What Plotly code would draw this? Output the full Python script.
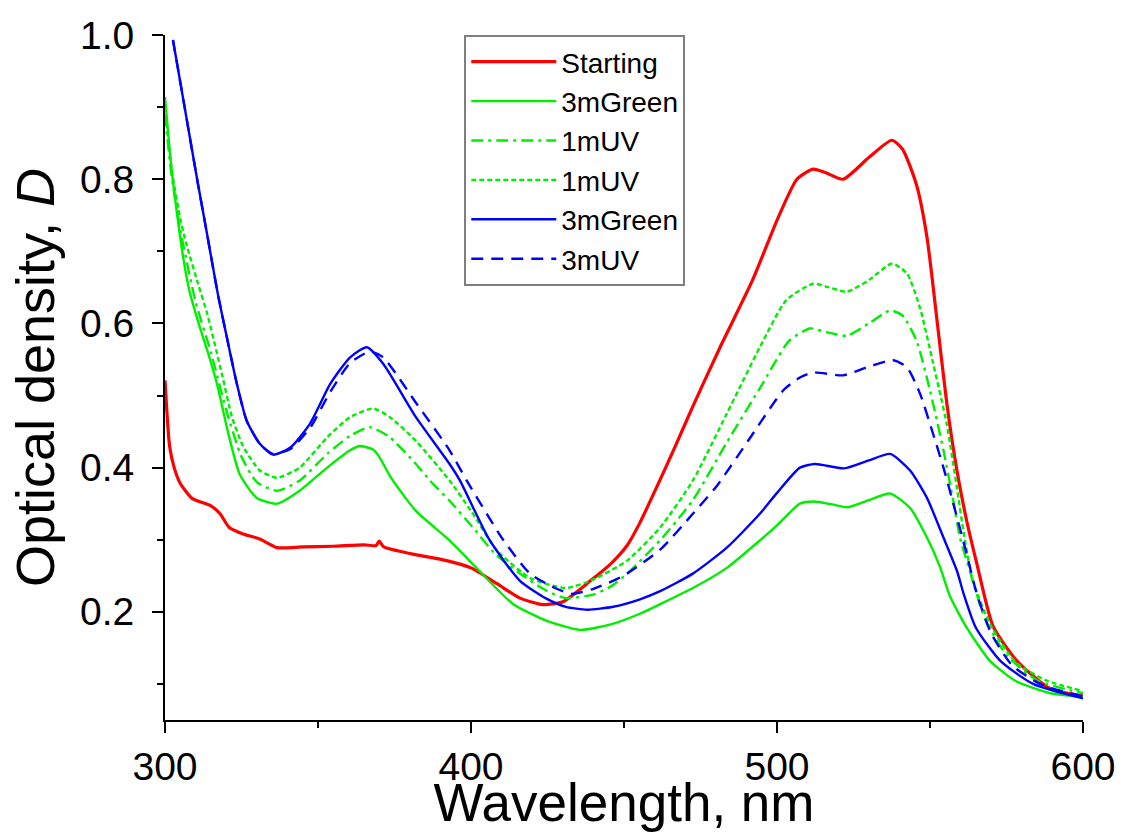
import plotly.graph_objects as go

# ---- data ----
wl_start = [300, 301.5, 303, 305, 309, 315, 318, 321, 325.5, 331, 336.6, 345, 355, 365, 369, 370, 371.5,
            381, 392, 400, 408.5, 416, 423.5, 430, 439, 446, 451, 455, 462, 467, 472.5, 481.4, 492, 500, 506.5,
            511.8, 516, 521.6, 530, 537.5, 541, 545.6, 549, 552.3, 555.5, 558.8, 562, 565.3, 570.6, 578.4, 589, 600]
d_start = [0.521, 0.43, 0.40, 0.378, 0.357, 0.347, 0.336, 0.317, 0.308, 0.301, 0.289, 0.290, 0.291, 0.293, 0.292, 0.298, 0.290,
           0.280, 0.271, 0.261, 0.239, 0.219, 0.210, 0.214, 0.243, 0.268, 0.292, 0.322, 0.385, 0.432, 0.485, 0.567, 0.66, 0.743, 0.80,
           0.814, 0.809, 0.80, 0.83, 0.854, 0.842, 0.792, 0.72, 0.604, 0.489, 0.396, 0.326, 0.267, 0.18, 0.132, 0.094, 0.083]

wl_green3 = [300, 302, 304, 306, 308, 311, 314, 317, 321, 324.5, 330, 336.6, 344, 353, 360.5, 363.7, 368, 370, 374, 382,
             393, 402, 413.7, 424.8, 435.6, 446, 455, 462, 472.5, 483.6, 494.4, 500, 507.5, 512, 518, 523, 530, 537,
             543.5, 549, 553.3, 556.5, 562, 569.6, 578, 589, 600]
d_green3 = [0.914, 0.82, 0.75, 0.69, 0.645, 0.60, 0.56, 0.516, 0.442, 0.39, 0.358, 0.35, 0.368, 0.40, 0.424, 0.43, 0.425, 0.415, 0.385,
            0.34, 0.299, 0.26, 0.211, 0.1875, 0.175, 0.183, 0.197, 0.211, 0.233, 0.261, 0.299, 0.32, 0.35, 0.353, 0.349, 0.345, 0.355,
            0.364, 0.344, 0.303, 0.262, 0.222, 0.178, 0.132, 0.104, 0.0875, 0.082]

wl_uv1a = [300, 302, 305, 310, 315, 320, 325, 330, 336.6, 344, 353, 360.5, 367, 373.5, 382, 386.6, 393, 400, 408, 416,
           424.8, 431, 440, 446, 451, 462, 472.5, 483.6, 494.4, 504, 510.8, 516, 522.8, 530, 537, 541, 545.6, 550,
           554.4, 557.6, 559.8, 563, 568, 575, 585, 600]
d_uv1a = [0.89, 0.81, 0.73, 0.63, 0.56, 0.48, 0.415, 0.38, 0.368, 0.382, 0.419, 0.444, 0.456, 0.442, 0.405, 0.382, 0.354, 0.32, 0.28,
          0.253, 0.229, 0.219, 0.224, 0.236, 0.253, 0.30, 0.355, 0.435, 0.51, 0.576, 0.593, 0.588, 0.583, 0.60, 0.618, 0.611, 0.576,
          0.507, 0.424, 0.354, 0.303, 0.257, 0.19, 0.14, 0.105, 0.087]

wl_uv1b = [300, 302.3, 305, 307, 310.8, 313.7, 318.6, 321.9, 325.5, 331, 336.6, 344, 353, 360.5, 368, 373.5, 382, 393, 400,
           408.5, 419.3, 431, 440, 451, 461.8, 472.5, 483.6, 494.4, 503, 511.8, 517, 522.8, 530, 537.6, 542.5, 546.7,
           551, 555.5, 558.8, 561, 564, 570, 578, 588, 600]
d_uv1b = [0.90, 0.81, 0.745, 0.71, 0.655, 0.615, 0.53, 0.47, 0.43, 0.396, 0.386, 0.40, 0.442, 0.47, 0.482, 0.47, 0.437, 0.382, 0.34,
          0.285, 0.247, 0.233, 0.245, 0.271, 0.317, 0.382, 0.475, 0.567, 0.632, 0.655, 0.65, 0.644, 0.66, 0.683, 0.669, 0.622,
          0.545, 0.46, 0.372, 0.31, 0.243, 0.18, 0.13, 0.105, 0.09]

wl_blue3 = [302.6, 306, 310.5, 313.7, 317.3, 320, 323.5, 326.7, 331, 335.3, 341, 347.4, 354, 360.5, 366, 371.3, 382, 393,
            396.4, 406, 416, 424.8, 431, 438, 446.5, 455, 462, 472.5, 483.6, 494.4, 500, 507.5, 512.4, 522, 530, 537,
            543.5, 549, 554.4, 558.8, 561, 565, 573, 583.7, 600]
d_blue3 = [0.993, 0.91, 0.80, 0.725, 0.64, 0.585, 0.516, 0.465, 0.433, 0.418, 0.428, 0.461, 0.516, 0.553, 0.567, 0.544, 0.47, 0.405,
           0.382, 0.30, 0.243, 0.218, 0.207, 0.203, 0.207, 0.217, 0.229, 0.253, 0.289, 0.336, 0.365, 0.40, 0.405, 0.399, 0.41, 0.419,
           0.396, 0.358, 0.303, 0.257, 0.225, 0.178, 0.132, 0.10, 0.08]

wl_uv3 = [302.6, 306, 310.5, 313.7, 317.3, 320, 323.5, 326.7, 331, 335.3, 341, 347.4, 354, 360.5, 367, 371.3, 382, 393,
          398.6, 410.5, 419.3, 428, 433, 440, 446.4, 451, 462, 472.5, 480.4, 491, 502, 507.5, 511.8, 521.6, 530, 538,
          542.5, 546.7, 551, 554.4, 557, 562, 565.3, 570, 577, 587, 600]
d_uv3 = [0.993, 0.91, 0.80, 0.725, 0.64, 0.585, 0.516, 0.465, 0.433, 0.419, 0.426, 0.455, 0.505, 0.545, 0.561, 0.553, 0.49, 0.424,
         0.382, 0.30, 0.253, 0.232, 0.225, 0.232, 0.243, 0.253, 0.287, 0.336, 0.375, 0.44, 0.507, 0.525, 0.532, 0.528, 0.54, 0.549,
         0.539, 0.503, 0.447, 0.40, 0.36, 0.28, 0.225, 0.17, 0.125, 0.098, 0.083]

series = [
    ("Starting", wl_start, d_start, "#FF0000", "solid", 3.2),
    ("3mGreen", wl_green3, d_green3, "#00EE00", "solid", 2.4),
    ("1mUV", wl_uv1a, d_uv1a, "#00EE00", "12px,5px,3px,5px", 2.4),
    ("1mUV", wl_uv1b, d_uv1b, "#00EE00", "5px,3px", 2.4),
    ("3mGreen", wl_blue3, d_blue3, "#0000FF", "solid", 2.4),
    ("3mUV", wl_uv3, d_uv3, "#0000FF", "12px,8px", 2.4),
]

fig = go.Figure()
for name, x, y, color, dash, w in series:
    fig.add_trace(go.Scatter(x=x, y=y, mode="lines", name=name,
                             line=dict(color=color, dash=dash, width=w, shape="spline", smoothing=0.6)))

FONT = "Liberation Sans, Arial, sans-serif"
fig.update_layout(
    width=1123, height=832,
    margin=dict(l=165, r=40, t=35, b=112),
    paper_bgcolor="white", plot_bgcolor="white",
    font=dict(family=FONT, color="black"),
    showlegend=True,
    legend=dict(x=0.326, y=1.0, xanchor="left", yanchor="top",
                bgcolor="white", bordercolor="#7f7f7f", borderwidth=2,
                font=dict(size=28, family=FONT), itemwidth=85, tracegroupgap=0),
)
fig.update_xaxes(
    range=[300, 600], showgrid=False, zeroline=False, automargin=False,
    showline=True, linecolor="black", linewidth=2,
    ticks="outside", ticklen=11, tickwidth=2, tickcolor="black",
    tick0=300, dtick=100,
    minor=dict(dtick=50, ticks="outside", ticklen=6, tickwidth=2, tickcolor="black"),
    tickfont=dict(size=39, family=FONT),
    title=dict(text="Wavelength, nm", font=dict(size=53, family=FONT), standoff=3),
)
fig.update_yaxes(
    range=[0.05, 1.0], showgrid=False, zeroline=False, automargin=False,
    showline=True, linecolor="black", linewidth=2,
    ticks="outside", ticklen=11, tickwidth=2, tickcolor="black",
    tick0=0.2, dtick=0.2, tickformat=".1f", ticklabelstandoff=10,
    minor=dict(dtick=0.1, tick0=0.1, ticks="outside", ticklen=6, tickwidth=2, tickcolor="black"),
    tickfont=dict(size=39, family=FONT),
    title=dict(text="Optical density, <i>D</i>", font=dict(size=54, family=FONT), standoff=8),
)

fig.write_html("out.html")
